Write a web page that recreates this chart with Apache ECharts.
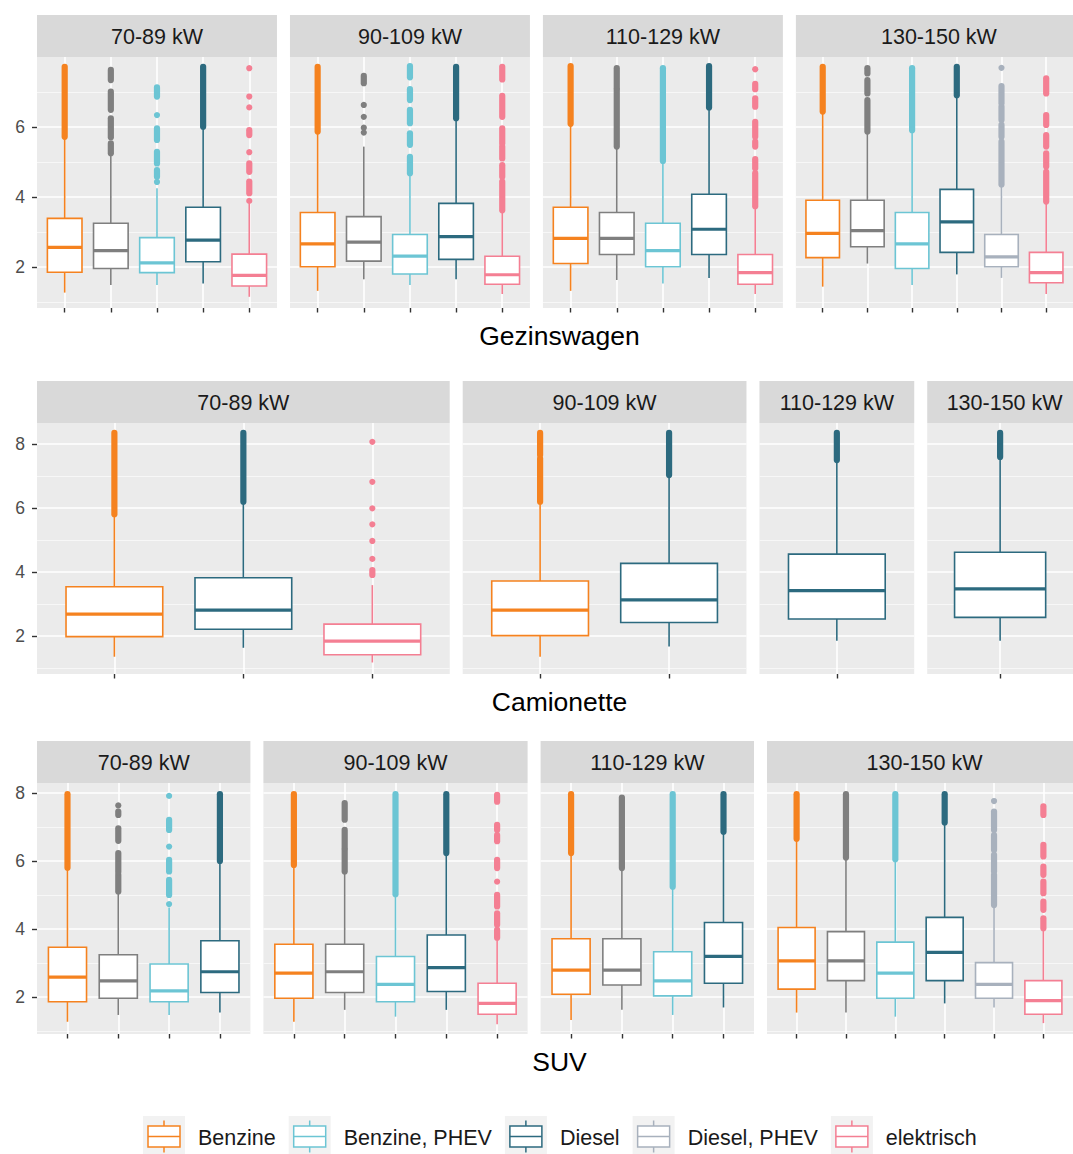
<!DOCTYPE html>
<html>
<head>
<meta charset="utf-8">
<title>Boxplots per vermogensklasse</title>
<script src="https://cdn.jsdelivr.net/npm/echarts@6.0.0/dist/echarts.min.js"></script>
<style>
  html, body { margin: 0; padding: 0; background: #ffffff; }
  #chart { width: 1073px; height: 1154px; }
</style>
</head>
<body>
<div id="chart"></div>
<script>
// brandstoftypes (de grijze staat niet in de legende)
var fuelNames = ['Benzine', 'overig', 'Benzine, PHEV', 'Diesel', 'Diesel, PHEV', 'elektrisch'];
var fuelColors = ['#F5821F', '#7F7F7F', '#6CC5D4', '#2C6A7F', '#A8B1BD', '#F47F93'];
var legendFuels = [0, 2, 3, 4, 5];

var vehicleTypes = ['Gezinswagen', 'Camionette', 'SUV'];
var powerClasses = ['70-89 kW', '90-109 kW', '110-129 kW', '130-150 kW'];

// y-as per rij: bereik, labels, kleine rasterlijnen
var yRanges = [[0.83, 8.0], [0.81, 8.66], [0.91, 8.29]];
var yTicks = [[2, 4, 6], [2, 4, 6, 8], [2, 4, 6, 8]];
var yMinorTicks = [[1, 3, 5, 7], [1, 3, 5, 7], [1, 3, 5, 7]];

// welke brandstoffen per paneel
var gezinFuels = [[0, 1, 2, 3, 5], [0, 1, 2, 3, 5], [0, 1, 2, 3, 5], [0, 1, 2, 3, 4, 5]];
var camionFuels = [[0, 3, 5], [0, 3], [3], [3]];
var suvFuels = [[0, 1, 2, 3], [0, 1, 2, 3, 5], [0, 1, 2, 3], [0, 1, 2, 3, 4, 5]];

// boxen: [onderste snor, Q1, mediaan, Q3, bovenste snor]
var gezinBoxes = [
  [[1.27, 1.85, 2.56, 3.39, 5.72], [1.49, 1.96, 2.47, 3.25, 5.25], [1.49, 1.84, 2.12, 2.84, 4.25], [1.53, 2.15, 2.77, 3.71, 6.01], [1.15, 1.46, 1.76, 2.37, 3.82]],
  [[1.32, 2.01, 2.66, 3.56, 5.87], [1.65, 2.17, 2.71, 3.44, 5.44], [1.49, 1.80, 2.31, 2.93, 4.63], [1.65, 2.22, 2.87, 3.82, 6.25], [1.23, 1.51, 1.78, 2.31, 3.58]],
  [[1.32, 2.10, 2.82, 3.71, 6.09], [1.63, 2.36, 2.82, 3.56, 5.42], [1.53, 2.01, 2.47, 3.25, 5.03], [1.69, 2.36, 3.08, 4.08, 6.56], [1.23, 1.51, 1.84, 2.36, 3.71]],
  [[1.44, 2.27, 2.96, 3.91, 6.44], [2.10, 2.58, 3.04, 3.91, 5.87], [1.49, 1.96, 2.66, 3.56, 5.91], [1.79, 2.42, 3.29, 4.22, 6.91], [1.69, 2.01, 2.29, 2.93, 4.34], [1.23, 1.55, 1.84, 2.42, 3.82]]
];
var camionBoxes = [
  [[1.35, 1.98, 2.68, 3.54, 5.81], [1.63, 2.21, 2.81, 3.82, 6.20], [1.17, 1.41, 1.84, 2.37, 3.59]],
  [[1.35, 2.01, 2.81, 3.72, 6.20], [1.67, 2.42, 3.13, 4.27, 7.03]],
  [[1.85, 2.53, 3.42, 4.56, 7.50]],
  [[1.85, 2.58, 3.47, 4.62, 7.60]]
];
var suvBoxes = [
  [[1.27, 1.86, 2.58, 3.46, 5.80], [1.47, 1.96, 2.47, 3.24, 5.10], [1.47, 1.86, 2.18, 2.97, 4.63], [1.54, 2.13, 2.74, 3.65, 6.00]],
  [[1.27, 1.96, 2.70, 3.55, 5.88], [1.62, 2.13, 2.74, 3.55, 5.67], [1.42, 1.86, 2.37, 3.19, 5.02], [1.62, 2.16, 2.86, 3.82, 6.23], [1.20, 1.49, 1.81, 2.40, 3.71]],
  [[1.32, 2.08, 2.79, 3.71, 6.23], [1.62, 2.35, 2.79, 3.71, 5.79], [1.47, 2.03, 2.47, 3.33, 5.24], [1.69, 2.40, 3.19, 4.19, 6.86]],
  [[1.54, 2.23, 3.06, 4.04, 6.65], [1.54, 2.48, 3.06, 3.92, 6.10], [1.42, 1.96, 2.70, 3.61, 6.05], [1.81, 2.48, 3.31, 4.34, 7.13], [1.69, 1.96, 2.37, 3.01, 4.68], [1.23, 1.49, 1.89, 2.48, 3.99]]
];

// uitschieters als reeksen [van, tot] (dicht opeen liggende punten)
var gezinOutliers = [
  [[[5.72, 7.72]],
   [[5.25, 5.53], [5.71, 6.25], [6.49, 7.01], [7.34, 7.63]],
   [[4.43, 4.43], [4.58, 4.77], [4.96, 5.29], [5.63, 5.96], [6.34, 6.34], [6.87, 7.13]],
   [[6.01, 7.72]],
   [[3.89, 3.89], [4.11, 4.44], [4.72, 4.96], [5.28, 5.28], [5.77, 5.91], [6.56, 6.56], [6.87, 6.87], [7.68, 7.68]]],
  [[[5.87, 7.72]],
   [[5.84, 5.84], [5.98, 5.98], [6.29, 6.29], [6.63, 6.63], [7.25, 7.46]],
   [[4.68, 5.15], [5.49, 5.82], [6.11, 6.49], [6.77, 7.08], [7.42, 7.74]],
   [[6.25, 7.72]],
   [[3.62, 4.44], [4.58, 4.91], [5.10, 5.44], [5.53, 5.96], [6.29, 6.89], [7.36, 7.72]]],
  [[[6.09, 7.74]],
   [[5.44, 7.06], [7.11, 7.68]],
   [[5.03, 7.68]],
   [[6.56, 7.74]],
   [[3.74, 4.68], [4.82, 5.08], [5.44, 5.58], [5.72, 6.15], [6.58, 6.82], [7.08, 7.23], [7.65, 7.65]]],
  [[[6.44, 7.72]],
   [[5.87, 6.77], [6.96, 7.34], [7.53, 7.68]],
   [[5.91, 7.68]],
   [[6.91, 7.72]],
   [[4.36, 5.58], [5.72, 6.06], [6.20, 6.58], [6.68, 7.17], [7.69, 7.69]],
   [[3.87, 4.72], [4.87, 5.25], [5.44, 5.77], [6.06, 6.34], [6.96, 7.39]]]
];
var camionOutliers = [
  [[[5.81, 8.35]],
   [[6.20, 8.35]],
   [[3.91, 4.06], [4.41, 4.41], [4.97, 4.97], [5.49, 5.49], [5.99, 5.99], [6.82, 6.82], [8.07, 8.07]]],
  [[[6.20, 7.55], [7.66, 8.35]],
   [[7.03, 8.35]]],
  [[[7.50, 8.35]]],
  [[[7.60, 8.35]]]
];
var suvOutliers = [
  [[[5.80, 7.96]],
   [[5.10, 5.59], [5.67, 6.23], [6.59, 6.96], [7.35, 7.45], [7.63, 7.63]],
   [[4.73, 4.73], [5.00, 5.44], [5.69, 6.03], [6.42, 6.42], [6.91, 7.21], [7.91, 7.91]],
   [[6.00, 7.96]]],
  [[[5.88, 7.96]],
   [[5.69, 6.32], [6.37, 6.91], [7.21, 7.70]],
   [[5.02, 7.96]],
   [[6.23, 7.96]],
   [[3.74, 3.97], [4.12, 4.46], [4.66, 5.00], [5.39, 5.39], [5.79, 6.03], [6.58, 6.76], [6.91, 7.06], [7.74, 7.94]]],
  [[[6.23, 7.96]],
   [[5.79, 7.86]],
   [[5.24, 7.96]],
   [[6.86, 7.96]]],
  [[[6.65, 7.96]],
   [[6.10, 7.96]],
   [[6.05, 7.96]],
   [[7.13, 7.96]],
   [[4.70, 5.59], [5.69, 6.18], [6.32, 6.76], [6.91, 7.45], [7.76, 7.76]],
   [[4.02, 4.31], [4.56, 4.80], [5.05, 5.39], [5.59, 5.83], [6.13, 6.47], [7.35, 7.60]]]
];

var rows = [
  { fuels: gezinFuels, boxes: gezinBoxes, outliers: gezinOutliers },
  { fuels: camionFuels, boxes: camionBoxes, outliers: camionOutliers },
  { fuels: suvFuels, boxes: suvBoxes, outliers: suvOutliers }
];

var FONT = "'Liberation Sans', Arial, sans-serif";
var LEFT = 37, RIGHT = 1082, GAP = 13;
var STRIP_H = 42, PANEL_H = 251;
var stripTops = [15, 381, 741];

function renderBox(params, api) {
  var x = api.value(0);
  var color = fuelColors[api.value(6)];
  var lo = api.coord([x, api.value(1)]);
  var q1 = api.coord([x, api.value(2)]);
  var md = api.coord([x, api.value(3)]);
  var q3 = api.coord([x, api.value(4)]);
  var hi = api.coord([x, api.value(5)]);
  var half = api.size([0.75, 0])[0] / 2;
  var thin = { stroke: color, lineWidth: 1.6, fill: null };
  return {
    type: 'group',
    children: [
      { type: 'line', shape: { x1: lo[0], y1: lo[1], x2: q1[0], y2: q1[1] }, style: thin },
      { type: 'line', shape: { x1: q3[0], y1: q3[1], x2: hi[0], y2: hi[1] }, style: thin },
      { type: 'rect', shape: { x: md[0] - half, y: q3[1], width: half * 2, height: q1[1] - q3[1] },
        style: { fill: '#ffffff', stroke: color, lineWidth: 1.6 } },
      { type: 'line', shape: { x1: md[0] - half, y1: md[1], x2: md[0] + half, y2: md[1] },
        style: { stroke: color, lineWidth: 3.2 } }
    ]
  };
}

function renderOutlier(params, api) {
  var x = api.value(0);
  var color = fuelColors[api.value(3)];
  var a = api.coord([x, api.value(1)]);
  var b = api.coord([x, api.value(2)]);
  if (Math.abs(a[1] - b[1]) < 1) {
    return { type: 'circle', shape: { cx: a[0], cy: a[1], r: 3.1 }, style: { fill: color } };
  }
  return {
    type: 'line',
    shape: { x1: a[0], y1: a[1], x2: b[0], y2: b[1] },
    style: { stroke: color, lineWidth: 6.2, lineCap: 'round' }
  };
}

var option = {
  animation: false,
  backgroundColor: '#ffffff',
  textStyle: { fontFamily: FONT },
  grid: [],
  xAxis: [],
  yAxis: [],
  series: [],
  graphic: { elements: [] }
};

rows.forEach(function (row, r) {
  var units = 0;
  row.fuels.forEach(function (f) { units += f.length + 0.2; });
  var unit = (RIGHT - LEFT - GAP * (row.fuels.length - 1)) / units;
  var left = LEFT;
  var top = stripTops[r] + STRIP_H;

  row.fuels.forEach(function (fuels, p) {
    var n = fuels.length;
    var w = unit * (n + 0.2);
    var g = option.grid.length;
    var first = p === 0;
    var cats = [];
    for (var i = 1; i <= n; i++) cats.push(i);

    option.grid.push({
      left: left, top: top, width: w, height: PANEL_H,
      show: true, backgroundColor: '#EBEBEB', borderWidth: 0
    });

    option.xAxis.push({
      gridIndex: g, type: 'value', min: 0.4, max: n + 0.6,
      axisLine: { show: false },
      axisTick: { show: true, customValues: cats, length: 4.5, lineStyle: { color: '#333333', width: 1.4 } },
      axisLabel: { show: false },
      splitLine: { show: true, lineStyle: { color: '#ffffff', width: 1.6 } }
    });

    // hoofd-y-as (labels en grote rasterlijnen)
    option.yAxis.push({
      gridIndex: g, type: 'value', min: yRanges[r][0], max: yRanges[r][1],
      axisLine: { show: false },
      axisTick: { show: first, customValues: yTicks[r], length: 5, lineStyle: { color: '#333333', width: 1.4 } },
      axisLabel: { show: first, customValues: yTicks[r], color: '#4D4D4D', fontSize: 17.5, margin: 12, fontFamily: FONT },
      splitLine: { show: true, lineStyle: { color: '#ffffff', width: 1.6 } }
    });
    // tweede y-as alleen voor de kleine rasterlijnen
    option.yAxis.push({
      gridIndex: g, type: 'value', min: yRanges[r][0], max: yRanges[r][1], position: 'left',
      axisLine: { show: false },
      axisTick: { show: false, customValues: yMinorTicks[r] },
      axisLabel: { show: false },
      splitLine: { show: true, lineStyle: { color: '#F7F7F7', width: 1 } }
    });

    var boxData = [];
    var outData = [];
    fuels.forEach(function (f, i) {
      var b = row.boxes[p][i];
      boxData.push([i + 1, b[0], b[1], b[2], b[3], b[4], f]);
      row.outliers[p][i].forEach(function (run) {
        outData.push([i + 1, run[0], run[1], f]);
      });
    });

    option.series.push({
      type: 'custom', name: vehicleTypes[r] + ' ' + powerClasses[p],
      xAxisIndex: g, yAxisIndex: 2 * g,
      renderItem: renderBox, data: boxData, z: 2
    });
    option.series.push({
      type: 'custom', name: vehicleTypes[r] + ' ' + powerClasses[p] + ' uitschieters',
      xAxisIndex: g, yAxisIndex: 2 * g,
      renderItem: renderOutlier, data: outData, z: 3
    });

    // stroken met de vermogensklasse
    option.graphic.elements.push({
      type: 'rect', shape: { x: left, y: stripTops[r], width: w, height: STRIP_H },
      style: { fill: '#D9D9D9' }, silent: true
    });
    option.graphic.elements.push({
      type: 'text', x: left + w / 2, y: stripTops[r] + STRIP_H / 2 + 1,
      style: { text: powerClasses[p], fill: '#1A1A1A', font: '21.5px ' + FONT,
               align: 'center', verticalAlign: 'middle', textAlign: 'center', textVerticalAlign: 'middle' },
      silent: true
    });

    left += w + GAP;
  });

  // titel van de rij
  option.graphic.elements.push({
    type: 'text', x: (LEFT + RIGHT) / 2, y: top + PANEL_H + 28,
    style: { text: vehicleTypes[r], fill: '#000000', font: '26.5px ' + FONT,
             align: 'center', verticalAlign: 'middle', textAlign: 'center', textVerticalAlign: 'middle' },
    silent: true
  });
});

// legende
(function () {
  var ctx = document.createElement('canvas').getContext('2d');
  ctx.font = '21.5px ' + FONT;
  var x = 143, keyTop = 1116, keyW = 42, keyH = 42, cy = 1136.5;
  legendFuels.forEach(function (f) {
    var c = fuelColors[f];
    var mid = x + keyW / 2;
    option.graphic.elements.push(
      { type: 'rect', shape: { x: x, y: keyTop, width: keyW, height: keyH }, style: { fill: '#F2F2F2' }, silent: true },
      { type: 'line', shape: { x1: mid, y1: cy - 16, x2: mid, y2: cy + 16 }, style: { stroke: c, lineWidth: 1.5 }, silent: true },
      { type: 'rect', shape: { x: x + 5, y: cy - 10.5, width: keyW - 10, height: 21 }, style: { fill: '#ffffff', stroke: c, lineWidth: 1.5 }, silent: true },
      { type: 'line', shape: { x1: x + 5, y1: cy, x2: x + keyW - 5, y2: cy }, style: { stroke: c, lineWidth: 1.5 }, silent: true }
    );
    var tx = x + keyW + 13;
    option.graphic.elements.push({
      type: 'text', x: tx, y: cy + 1.5,
      style: { text: fuelNames[f], fill: '#1A1A1A', font: '21.5px ' + FONT,
               align: 'left', verticalAlign: 'middle', textAlign: 'left', textVerticalAlign: 'middle' },
      silent: true
    });
    x = tx + ctx.measureText(fuelNames[f]).width + 13;
  });
})();

var myChart = echarts.init(document.getElementById('chart'), null, { renderer: 'svg' });
myChart.setOption(option);
</script>
</body>
</html>
